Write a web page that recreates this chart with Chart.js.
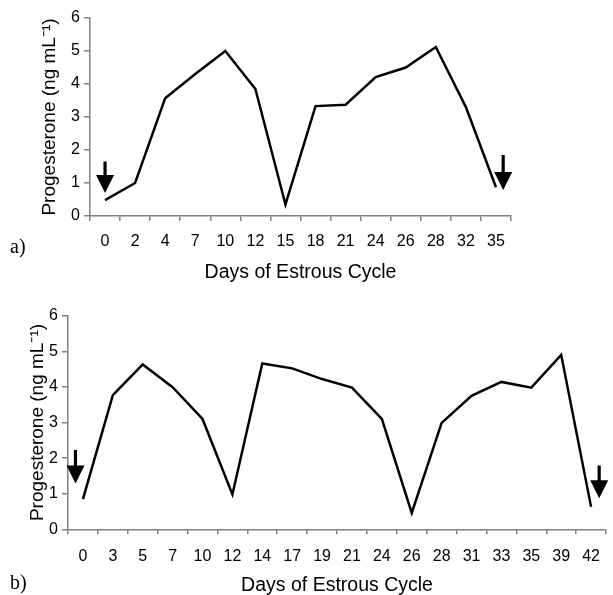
<!DOCTYPE html>
<html>
<head>
<meta charset="utf-8">
<script src="https://cdn.jsdelivr.net/npm/chart.js@4/dist/chart.umd.min.js"></script>
<style>
  html, body { margin:0; padding:0; background:#fff; overflow:hidden; }
  #wrap { position:relative; width:613px; height:595px; }
  .box { position:absolute; left:0; width:613px; }
  #boxA { top:0; height:290px; }
  #boxB { top:295px; height:300px; }
  .lab { position:absolute; font-family:"Liberation Serif","DejaVu Serif",serif; font-size:20px; color:#000; line-height:1; }
</style>
</head>
<body>
<div id="wrap">
  <div class="box" id="boxA"><canvas id="cA" width="613" height="290"></canvas></div>
  <div class="box" id="boxB"><canvas id="cB" width="613" height="300"></canvas></div>
  <div class="lab" style="left:10px; top:236px;">a)</div>
  <div class="lab" style="left:10px; top:572px;">b)</div>
</div>
<script>
// ---- Data ----
const daysA = ['0','2','4','7','10','12','15','18','21','24','26','28','32','35'];
const progA = [0.48, 1.0, 3.57, 4.3, 5.0, 3.85, 0.35, 3.33, 3.37, 4.21, 4.5, 5.12, 3.3, 0.87];

const daysB = ['0','3','5','7','10','12','14','17','19','21','24','26','28','31','33','35','39','42'];
const progB = [0.85, 3.77, 4.63, 3.99, 3.1, 0.98, 4.66, 4.52, 4.22, 3.98, 3.1, 0.46, 2.99, 3.75, 4.14, 3.98, 4.9, 0.63];

const yTicks = [0, 1, 2, 3, 4, 5, 6];

// arrows: [category position, top value, tip value]
const arrowsA = [[0, 1.65, 0.70], [13.24, 1.85, 0.79]];
const arrowsB = [[-0.25, 2.23, 1.29], [17.27, 1.79, 0.87]];

const xTitle = 'Days of Estrous Cycle';
const yTitle = 'Progesterone (ng mL\u207B\u00B9)';

const AXIS = '#808080';

const arrowPlugin = {
  id: 'arrows',
  afterDatasetsDraw(chart, args, opts) {
    const ctx = chart.ctx, xs = chart.scales.x, ys = chart.scales.y;
    ctx.save();
    ctx.fillStyle = '#000';
    ctx.strokeStyle = '#000';
    (opts.list || []).forEach(a => {
      const x = xs.getPixelForValue(a[0]);
      const yTop = ys.getPixelForValue(a[1]);
      const yTip = ys.getPixelForValue(a[2]);
      const headH = 18, headW = 18;
      ctx.lineWidth = 3.2;
      ctx.beginPath();
      ctx.moveTo(x, yTop);
      ctx.lineTo(x, yTip - headH + 1);
      ctx.stroke();
      ctx.beginPath();
      ctx.moveTo(x - headW / 2, yTip - headH);
      ctx.lineTo(x + headW / 2, yTip - headH);
      ctx.lineTo(x, yTip);
      ctx.closePath();
      ctx.fill();
    });
    ctx.restore();
  }
};

function makeChart(id, days, vals, arrows, cfg) {
  return new Chart(document.getElementById(id), {
    type: 'line',
    data: {
      labels: days,
      datasets: [{
        data: vals,
        borderColor: '#000',
        borderWidth: 2.5,
        pointRadius: 0,
        tension: 0,
        fill: false
      }]
    },
    options: {
      responsive: false,
      animation: false,
      events: [],
      layout: { padding: { left: 0, right: cfg.right, top: cfg.top, bottom: 0 } },
      plugins: {
        legend: { display: false },
        tooltip: { enabled: false },
        arrows: { list: arrows }
      },
      scales: {
        x: {
          type: 'category',
          offset: true,
          grid: { display: true, drawOnChartArea: false, drawTicks: true, tickLength: 5, offset: true, color: AXIS, lineWidth: 1.5 },
          border: { display: true, color: AXIS, width: 1.5 },
          ticks: { color: '#000', font: { family: 'Liberation Sans, Arial, sans-serif', size: 16 }, padding: cfg.xtpad, maxRotation: 0, autoSkip: false },
          title: { display: true, text: xTitle, color: '#000', font: { family: 'Liberation Sans, Arial, sans-serif', size: 19.5, lineHeight: 1 }, padding: { top: 0, bottom: cfg.xtitlePad } },
          afterFit(s) { s.height = cfg.xh; }
        },
        y: {
          min: 0, max: 6,
          afterBuildTicks(s) { s.ticks = yTicks.map(v => ({ value: v })); },
          grid: { display: true, drawOnChartArea: false, drawTicks: true, tickLength: 6, color: AXIS, lineWidth: 1.5 },
          border: { display: true, color: AXIS, width: 1.5 },
          ticks: { color: '#000', font: { family: 'Liberation Sans, Arial, sans-serif', size: 16 }, padding: 4 },
          title: { display: true, text: yTitle, color: '#000', font: { family: 'Liberation Sans, Arial, sans-serif', size: 19, lineHeight: 1 }, padding: { top: cfg.ytitlePad, bottom: 0 } },
          afterFit(s) { s.width = cfg.yw; }
        }
      }
    },
    plugins: [arrowPlugin]
  });
}

makeChart('cA', daysA, progA, arrowsA, { right: 102, top: 18, xh: 74, yw: 90, xtpad: 11, xtitlePad: 8, ytitlePad: 40.5 });
makeChart('cB', daysB, progB, arrowsB, { right: 0.5, top: 20.7, xh: 65.7, yw: 68, xtpad: 13, xtitlePad: 0, ytitlePad: 28.5 });
</script>
</body>
</html>
